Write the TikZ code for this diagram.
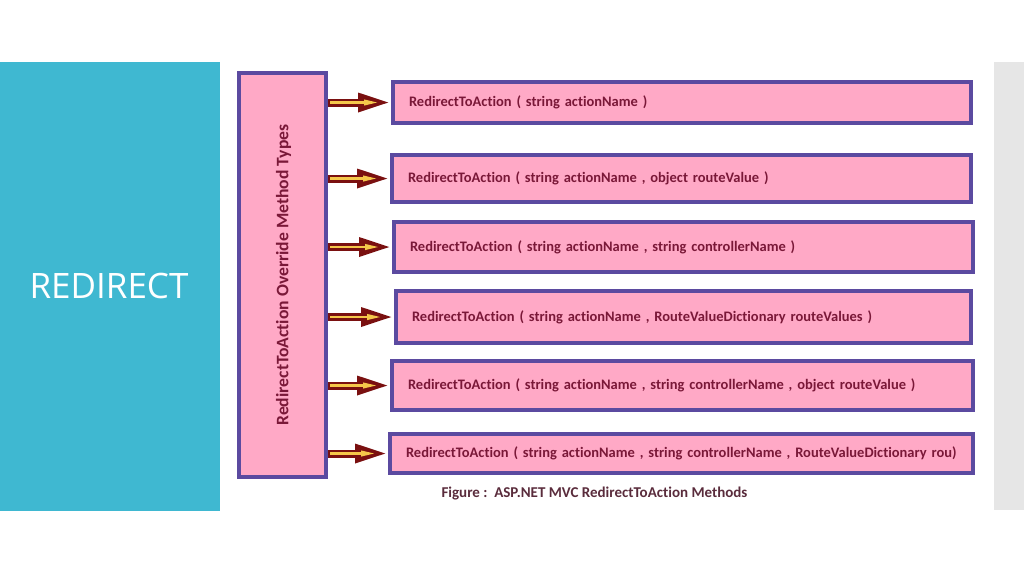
\documentclass[tikz,border=0pt]{standalone}
\usepackage{fontspec}
\setmainfont[Ligatures=NoCommon]{Carlito}
\newfontfamily\slidefont{Open Sans}
\usetikzlibrary{arrows.meta,calc}
\definecolor{teal}{HTML}{3FB8D1}
\definecolor{grayband}{HTML}{E6E6E6}
\definecolor{boxfill}{HTML}{FFA9C6}
\definecolor{boxline}{HTML}{5B4AA0}
\definecolor{txt}{HTML}{7A1838}
\definecolor{arrred}{HTML}{7A1010}
\definecolor{arryel}{HTML}{F5C74A}
\definecolor{captxt}{HTML}{5A2C3C}
\tikzset{
  methbox/.style={draw=boxline, line width=4pt, fill=boxfill, anchor=north west,
    align=left, inner xsep=16pt, inner ysep=0pt, text=txt,
    font=\fontsize{14.5}{16}\selectfont\bfseries},
  arrbody/.style={draw=arrred, line width=8pt, -{Triangle[length=34pt,width=17pt]}, shorten >=-1pt},
  arrcore/.style={draw=arryel, line width=2.2pt, -{Triangle[length=14pt,width=5.5pt]}, shorten >=13pt}
}
\newcommand{\methodbox}[6]{%
  \node[methbox, text width=#4pt-#2pt-32pt, minimum height=#5pt-#3pt] (#1) at (#2,#3) {#6};}
\begin{document}
\begin{tikzpicture}[x=1pt,y=-1pt]
\useasboundingbox (0,0) rectangle (1024,574);
\fill[white] (0,0) rectangle (1024,574);
\fill[teal] (0,62) rectangle (220,511);
\fill[grayband] (994,62) rectangle (1024,510);
\node[text=white, font=\slidefont\fontsize{35}{40}\selectfont, anchor=base west] (title) at (26,298) {REDIRECT};
% left tall box
\node[draw=boxline, line width=4pt, fill=boxfill, anchor=north west, minimum width=87pt, minimum height=404pt, inner sep=0pt] (L) at (237,71) {};
\node[rotate=90, text=txt, font=\fontsize{17.6}{19}\selectfont\bfseries] (Ltext) at ([xshift=1pt]L.center) {RedirectToAction Override Method Types};
% method boxes
\methodbox{b1}{391}{80}{969}{121}{RedirectToAction ( string actionName )}
\methodbox{b2}{390}{153}{969}{200}{RedirectToAction ( string actionName , object routeValue )}
\methodbox{b3}{392}{220}{971}{270}{RedirectToAction ( string actionName , string controllerName )}
\methodbox{b4}{394}{289}{969}{341}{RedirectToAction ( string actionName , RouteValueDictionary routeValues )}
\methodbox{b5}{390}{359}{971}{408}{RedirectToAction ( string actionName , string controllerName , object routeValue )}
\methodbox{b6}{388}{432}{971}{471}{RedirectToAction ( string actionName , string controllerName , RouteValueDictionary rou)}
% arrows
\foreach \b in {b1,b2,b3,b4,b5,b6}{
  \draw[arrbody] (L.east |- \b.west) -- (\b.west);
  \draw[arrcore] ($(L.east |- \b.west)+(2,0)$) -- (\b.west);
}
\node[text=captxt, font=\fontsize{15}{17}\selectfont\bfseries, anchor=west] (cap) at (438,493) {Figure :\ \ ASP.NET MVC RedirectToAction Methods};
\end{tikzpicture}
\end{document}
